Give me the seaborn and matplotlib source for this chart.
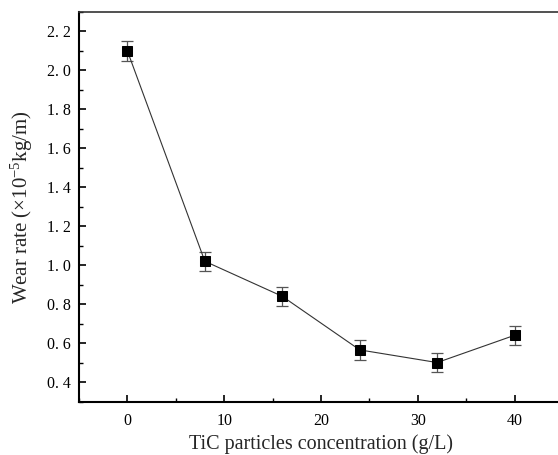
import matplotlib
matplotlib.use("Agg")
import matplotlib.pyplot as plt
import seaborn as sns
import pandas as pd
from matplotlib.ticker import MultipleLocator

# Data
concentration = [0, 8, 16, 24, 32, 40]          # TiC particles concentration (g/L)
wear_rate = [2.10, 1.02, 0.84, 0.565, 0.50, 0.64]  # x10^-5 kg/m
wear_err = [0.05, 0.05, 0.05, 0.05, 0.05, 0.05]

df = pd.DataFrame({"conc": concentration, "wear": wear_rate, "err": wear_err})

sns.set_theme(style="ticks")
plt.rcParams["font.family"] = ["Liberation Serif", "DejaVu Serif"]
plt.rcParams["mathtext.fontset"] = "custom"
plt.rcParams["mathtext.rm"] = "Liberation Serif"
plt.rcParams["mathtext.it"] = "Liberation Serif:italic"

fig = plt.figure(figsize=(5.58, 4.55), dpi=100)
# axes run just past the right edge, like the cropped original
ax = fig.add_axes([79 / 558, (455 - 401.5) / 455, 484 / 558, 389.5 / 455])

ax.errorbar(df["conc"], df["wear"], yerr=df["err"], fmt="none",
            ecolor="#555555", elinewidth=0.9, capsize=4, capthick=0.9, zorder=2)
sns.lineplot(data=df, x="conc", y="wear", ax=ax, color="#333333", linewidth=0.8,
             marker="s", markersize=6.5, markerfacecolor="black",
             markeredgecolor="black", zorder=3)

ax.set_xlim(-5, 45)
ax.set_ylim(0.3, 2.3)
ax.xaxis.set_major_locator(MultipleLocator(10))
ax.xaxis.set_minor_locator(MultipleLocator(5))
ax.yaxis.set_major_locator(MultipleLocator(0.2))
ax.yaxis.set_minor_locator(MultipleLocator(0.1))
ax.yaxis.set_major_formatter(plt.FuncFormatter(lambda v, p: f"{v:.1f}".replace(".", ". ")))

ax.tick_params(which="both", direction="in", colors="black", labelsize=11.5)
ax.tick_params(which="major", length=5, width=1.2)
ax.tick_params(which="minor", length=3, width=1.0)
ax.tick_params(axis="x", pad=8)
ax.tick_params(axis="y", pad=6)

for side in ["left", "bottom"]:
    ax.spines[side].set_linewidth(1.5)
    ax.spines[side].set_color("black")
ax.spines["top"].set_linewidth(1.2)
ax.spines["top"].set_color("#333333")
ax.spines["right"].set_visible(False)

ax.set_xlabel("TiC particles concentration (g/L)", fontsize=14.5)
ax.set_ylabel("Wear rate (×10$^{-5}$kg/m)", fontsize=15)
ax.xaxis.set_label_coords(0.5, -0.085)
ax.yaxis.set_label_coords(-0.09, 0.5)

fig.savefig("out.png", dpi=100)
